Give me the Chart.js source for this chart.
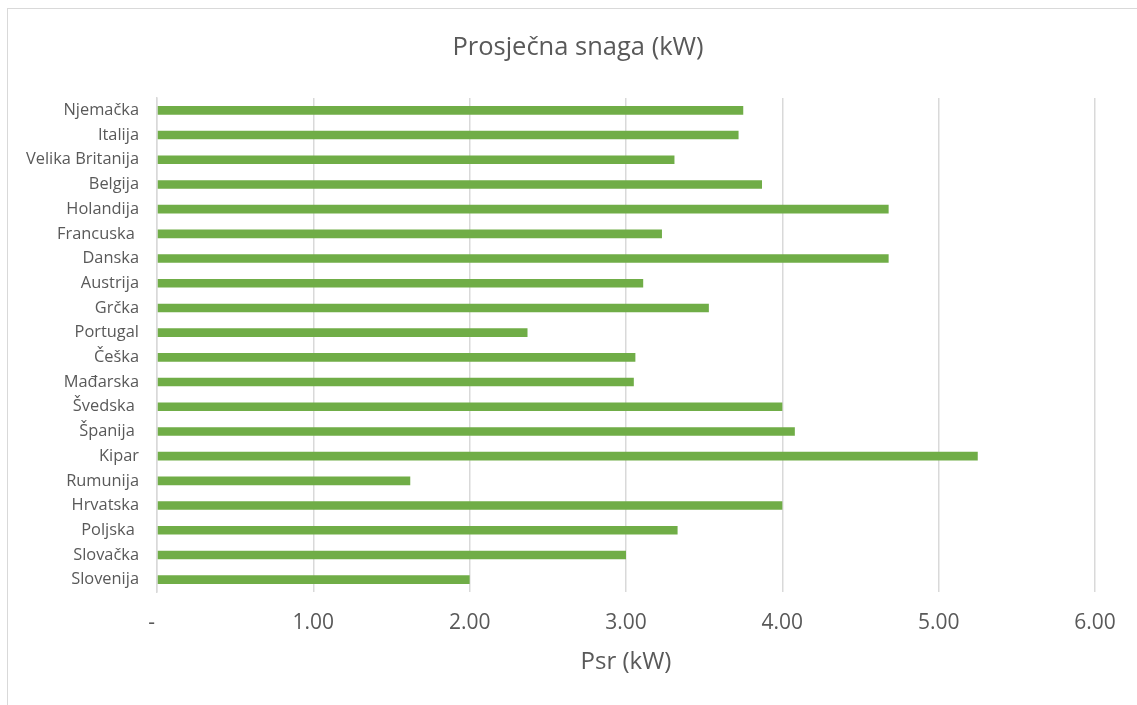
<!DOCTYPE html>
<html>
<head>
<meta charset="utf-8">
<title>Prosječna snaga (kW)</title>
<script src="https://cdn.jsdelivr.net/npm/chart.js@4/dist/chart.umd.min.js"></script>
<style>
    body { margin: 0; background: #fff; }
    canvas { display: block; }
</style>
</head>
<body>
<canvas id="snagaChart" width="1137" height="705"></canvas>
<script>
const zemlje = ['Njemačka', 'Italija', 'Velika Britanija', 'Belgija', 'Holandija', 'Francuska ',
    'Danska', 'Austrija', 'Grčka', 'Portugal', 'Češka', 'Mađarska', 'Švedska ', 'Španija ',
    'Kipar', 'Rumunija', 'Hrvatska', 'Poljska ', 'Slovačka', 'Slovenija'];
const snaga = [3.75, 3.72, 3.31, 3.87, 4.68, 3.23, 4.68, 3.11, 3.53, 2.37,
    3.06, 3.05, 4.00, 4.08, 5.25, 1.62, 4.00, 3.33, 3.00, 2.00];
const xMin = 0;
const xMax = 6;
const xKorak = 1;

const sivaTekst = '#595959';
const sivaLinija = '#d9d9d9';

// okvir oko grafikona (kao u Excelu) + pomak naslova udesno
const okvirPlugin = {
    id: 'okvir',
    afterLayout(chart) {
        if (chart.titleBlock) chart.titleBlock.left = 61;
    },
    beforeDraw(chart) {
        const c = chart.ctx;
        c.save();
        c.fillStyle = '#fff';
        c.fillRect(0, 0, chart.width, chart.height);
        c.strokeStyle = sivaLinija;
        c.lineWidth = 1;
        c.strokeRect(7.5, 8.5, chart.width + 20, chart.height + 20);
        c.restore();
    }
};

document.addEventListener('DOMContentLoaded', function () {
    const ctx = document.getElementById('snagaChart').getContext('2d');
    new Chart(ctx, {
        type: 'bar',
        data: {
            labels: zemlje,
            datasets: [{
                label: 'Psr (kW)',
                data: snaga,
                backgroundColor: '#70ad47',
                borderWidth: 0,
                barPercentage: 0.35,
                categoryPercentage: 1
            }]
        },
        options: {
            indexAxis: 'y',
            responsive: false,
            animation: false,
            layout: { padding: { left: 0, right: 42, top: 0, bottom: 0 } },
            plugins: {
                legend: { display: false },
                tooltip: { enabled: false },
                title: {
                    display: true,
                    text: 'Prosječna snaga (kW)',
                    color: sivaTekst,
                    font: { family: 'Open Sans', size: 25.5, weight: 'normal' },
                    padding: { top: 32, bottom: 35.4 }
                }
            },
            scales: {
                x: {
                    min: xMin,
                    max: xMax,
                    ticks: {
                        stepSize: xKorak,
                        color: sivaTekst,
                        font: { family: 'Open Sans', size: 21 },
                        padding: 18,
                        callback: function (v) { return v === 0 ? '-  ' : v.toFixed(2); }
                    },
                    grid: { color: sivaLinija, lineWidth: 1.5, drawTicks: false },
                    border: { display: false },
                    title: {
                        display: true,
                        text: 'Psr (kW)',
                        color: sivaTekst,
                        font: { family: 'Open Sans', size: 24 },
                        padding: { top: 0, bottom: 28.5 }
                    },
                    afterFit: function (scale) { scale.height = 113; }
                },
                y: {
                    ticks: {
                        color: sivaTekst,
                        font: { family: 'Open Sans', size: 16.4 },
                        padding: 18,
                        autoSkip: false
                    },
                    grid: { display: false, drawTicks: false },
                    border: { display: true, color: sivaLinija, width: 1.5 },
                    afterFit: function (scale) { scale.width = 157; }
                }
            }
        },
        plugins: [okvirPlugin]
    });
});
</script>
</body>
</html>
